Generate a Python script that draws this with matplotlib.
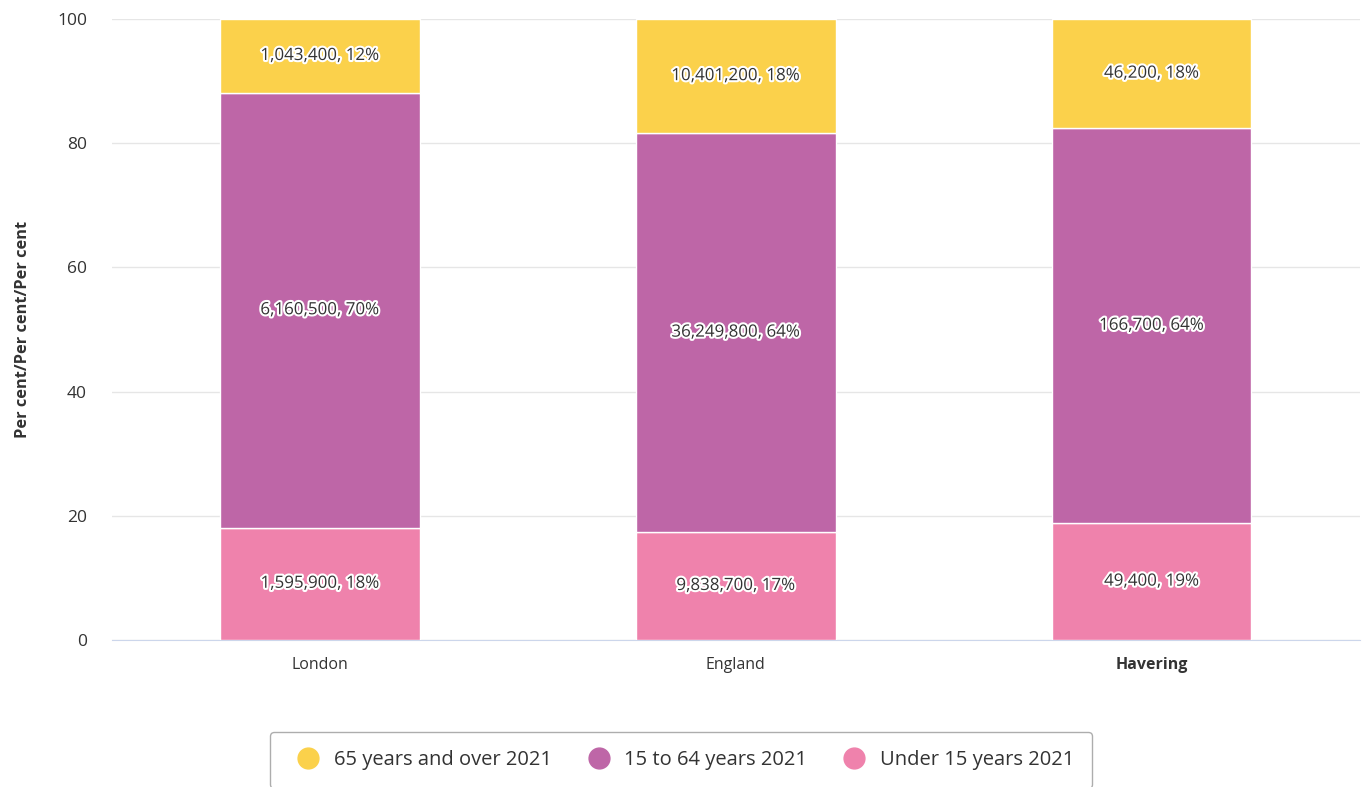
import matplotlib.pyplot as plt
import matplotlib.patheffects as pe
from matplotlib.lines import Line2D

plt.rcParams['font.family'] = ['Open Sans', 'DejaVu Sans']

# dane
areas = ["London", "England", "Havering"]
series = ["Under 15 years 2021", "15 to 64 years 2021", "65 years and over 2021"]
counts = {
    "Under 15 years 2021": [1595900, 9838700, 49400],
    "15 to 64 years 2021": [6160500, 36249800, 166700],
    "65 years and over 2021": [1043400, 10401200, 46200],
}
pct = {
    "Under 15 years 2021": [18.1, 17.4, 18.8],
    "15 to 64 years 2021": [70.0, 64.2, 63.6],
    "65 years and over 2021": [11.9, 18.4, 17.6],
}
labels_pct = {
    "Under 15 years 2021": [18, 17, 19],
    "15 to 64 years 2021": [70, 64, 64],
    "65 years and over 2021": [12, 18, 18],
}
colors = {
    "Under 15 years 2021": "#ef82ac",
    "15 to 64 years 2021": "#be66a7",
    "65 years and over 2021": "#fbd14b",
}

fig = plt.figure(figsize=(13.65, 7.87), dpi=100)
ax = fig.add_axes([0.082, 0.1868, 0.914, 0.789])

x = range(len(areas))
bottom = [0, 0, 0]
for s in series:
    bars = ax.bar(x, pct[s], 0.48, bottom=bottom, color=colors[s],
                  edgecolor="white", linewidth=1, zorder=3)
    for i, b in enumerate(bars):
        txt = f"{counts[s][i]:,}, {labels_pct[s][i]}%"
        ax.text(b.get_x() + b.get_width() / 2, bottom[i] + pct[s][i] / 2, txt,
                ha="center", va="center", fontsize=12.2, color="#333333", zorder=5,
                path_effects=[pe.withStroke(linewidth=3, foreground="white")])
    bottom = [bottom[i] + pct[s][i] for i in range(len(areas))]

ax.set_xlim(-0.5, 2.5)
ax.set_ylim(0, 100)
ax.set_yticks([0, 20, 40, 60, 80, 100])
ax.grid(axis="y", color="#e6e6e6", linewidth=1, zorder=0)
for s in ["top", "right", "left"]:
    ax.spines[s].set_visible(False)
ax.spines["bottom"].set_color("#ccd6eb")
ax.tick_params(axis="y", length=0, labelsize=12.5, labelcolor="#333333", pad=18)
ax.tick_params(axis="x", length=0, labelsize=11.5, labelcolor="#333333", pad=12)
ax.set_xticks(list(x))
ax.set_xticklabels(areas)
ax.get_xticklabels()[2].set_fontweight("bold")
ax.set_ylabel("Per cent/Per cent/Per cent", fontsize=11.8, fontweight="bold",
              color="#333333", labelpad=19)

handles = [Line2D([], [], marker="o", linestyle="", markersize=15,
                  markerfacecolor=colors[s], markeredgecolor=colors[s], label=s)
           for s in series[::-1]]
leg = fig.legend(handles=handles, loc="center", bbox_to_anchor=(0.499, 0.034),
                 ncol=3, frameon=True, fontsize=14.5, handletextpad=0.25,
                 columnspacing=1.35, borderpad=0.9, fancybox=True, labelcolor="#333333")
leg.get_frame().set_edgecolor("#999999")
leg.get_frame().set_linewidth(1)

fig.savefig("out.png", dpi=100)
